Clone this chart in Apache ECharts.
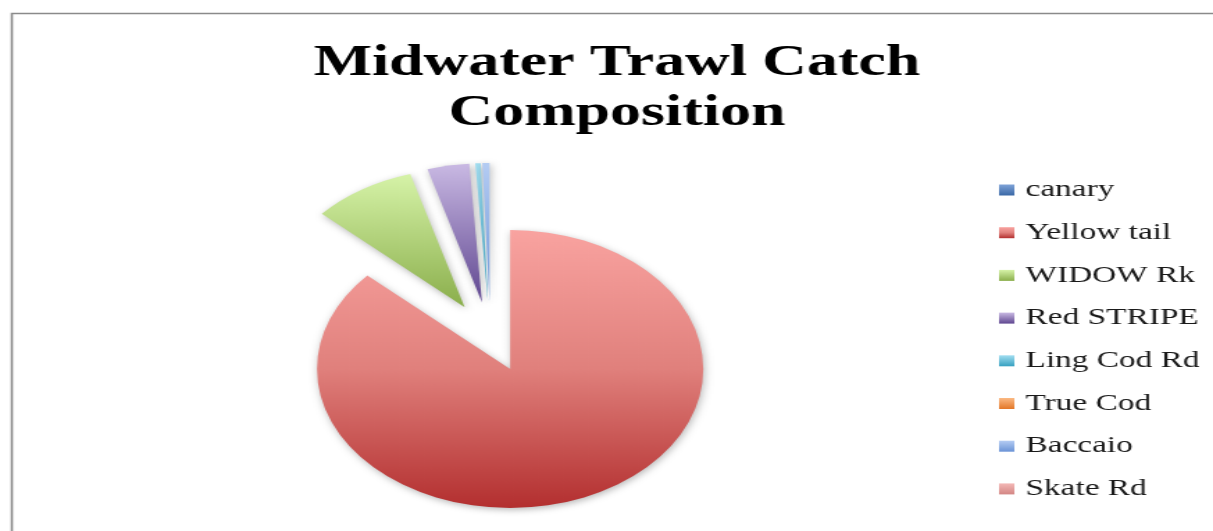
<!DOCTYPE html>
<html>
<head>
<meta charset="utf-8">
<title>Midwater Trawl Catch Composition</title>
<script src="https://cdn.jsdelivr.net/npm/echarts@6/dist/echarts.min.js"></script>
<style>
  html, body { margin: 0; padding: 0; background: #ffffff; overflow: hidden; }
  #wrap { width: 1213px; height: 531px; overflow: hidden; position: relative; }
  /* the chart is laid out in a narrower box and widened horizontally */
  #chart { width: 873px; height: 531px; transform: scaleX(1.3895); transform-origin: 0 0; }
</style>
</head>
<body>
<div id="wrap"><div id="chart"></div></div>
<script>
// Catch composition by species (share of total catch, %)
const species = ['canary', 'Yellow tail', 'WIDOW Rk', 'Red STRIPE', 'Ling Cod Rd', 'True Cod', 'Baccaio', 'Skate Rd'];
const catchShare = [0, 86.75, 8.7, 3.5, 0.45, 0, 0.6, 0];

// top -> bottom gradient colours for each slice
const sliceShades = [
  ['#7FA3D8', '#3A68A6'],
  ['#F9A3A0', '#E0807C', '#B32F2F'],
  ['#D6F3A8', '#8AAE4B'],
  ['#C9B9E3', '#5F4690'],
  ['#A2DEF1', '#36A0C0'],
  ['#FBB984', '#E37728'],
  ['#B4CCF3', '#6A93D6'],
  ['#F4B8B6', '#D38684']
];

function shade(stops) {
  const colorStops = stops.map((c, i) => ({ offset: i / (stops.length - 1), color: c }));
  return new echarts.graphic.LinearGradient(0, 0, 0, 1, colorStops);
}

const pieData = species.map((name, i) => ({
  name: name,
  value: catchShare[i],
  selected: true,
  itemStyle: { color: shade(sliceShades[i]) }
}));

const chart = echarts.init(document.getElementById('chart'), null, { renderer: 'canvas' });

chart.setOption({
  animation: false,
  backgroundColor: '#ffffff',
  title: {
    text: 'Midwater Trawl Catch\nComposition',
    left: 439,
    top: 33,
    textAlign: 'center',
    textStyle: {
      fontFamily: 'Liberation Serif',
      fontWeight: 'bold',
      fontSize: 44.5,
      lineHeight: 50,
      color: '#000000'
    }
  },
  legend: {
    orient: 'vertical',
    left: 714,
    top: 173,
    icon: 'rect',
    itemWidth: 11,
    itemHeight: 11,
    itemGap: 18.7,
    selectedMode: false,
    textStyle: {
      fontFamily: 'Liberation Serif',
      fontSize: 24,
      lineHeight: 24,
      color: '#1a1a1a',
      padding: [0, 0, 0, 3]
    },
    data: species
  },
  graphic: [{
    type: 'rect',
    left: 6,
    top: 11,
    shape: { width: 1000, height: 600 },
    style: { fill: 'none', stroke: '#8a8a8a', lineWidth: 1.6 },
    silent: true,
    z: -1
  }],
  series: [{
    type: 'pie',
    center: [353, 337],
    radius: [0, 139],
    startAngle: 90,
    clockwise: true,
    selectedMode: 'multiple',
    selectedOffset: 35,
    label: { show: false },
    labelLine: { show: false },
    emphasis: { disabled: true },
    itemStyle: {
      shadowBlur: 6,
      shadowColor: 'rgba(0,0,0,0.28)',
      shadowOffsetX: 1,
      shadowOffsetY: 2
    },
    data: pieData
  }]
});
</script>
</body>
</html>
